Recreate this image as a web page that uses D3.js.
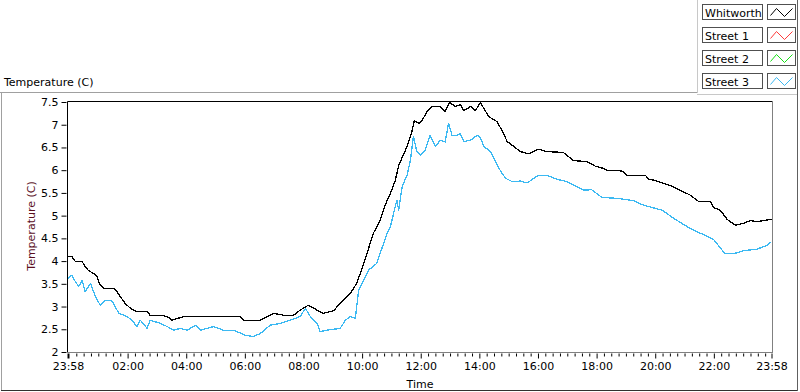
<!DOCTYPE html>
<html>
<head>
<meta charset="utf-8">
<script src="https://cdn.jsdelivr.net/npm/d3@7"></script>
<style>
  html, body { margin: 0; padding: 0; background: #fff; }
  svg { display: block; }
  text { font-family: "DejaVu Sans", "Liberation Sans", sans-serif; font-size: 11px; fill: #000; }
</style>
</head>
<body>
<svg id="chart" width="800" height="392"></svg>
<script>
// ---------------- data ----------------
const seriesNames = ["Whitworth", "Street 1", "Street 2", "Street 3"];
const seriesColors = ["#000000", "#ff3b3b", "#16e016", "#3cb9f2"];

const whitworthTime = ["23:58","00:06","00:13","00:27","00:33","00:40","00:50","00:57","01:04","01:11","01:31","01:38","01:45","01:55","02:06","02:19","02:40","02:46","03:07","03:21","03:31","03:55","04:36","05:51","05:57","06:32","06:38","06:59","07:19","07:40","07:53","08:10","08:28","08:41","09:02","09:15","09:36","09:49","10:00","10:10","10:23","10:37","10:47","10:58","11:08","11:15","11:32","11:42","11:47","11:56","12:03","12:13","12:23","12:40","12:50","12:59","13:11","13:21","13:28","13:42","13:52","14:02","14:12","14:19","14:36","14:46","14:57","15:07","15:24","15:41","16:01","16:18","16:52","17:13","17:40","17:57","18:14","18:21","18:42","18:55","19:02","19:40","19:46","19:57","20:14","20:34","20:51","21:12","21:29","21:53","21:59","22:13","22:27","22:44","23:01","23:14","23:28","23:42","23:58"];
const whitworthTemp = [4.10,4.10,3.99,3.99,3.88,3.79,3.73,3.66,3.47,3.40,3.40,3.33,3.22,3.07,2.96,2.89,2.89,2.81,2.81,2.78,2.70,2.78,2.78,2.78,2.70,2.70,2.74,2.85,2.81,2.81,2.92,3.03,2.92,2.85,2.91,3.07,3.29,3.51,3.84,4.17,4.61,4.90,5.23,5.49,5.78,6.11,6.52,6.85,7.09,7.03,7.10,7.29,7.40,7.40,7.29,7.49,7.40,7.44,7.31,7.40,7.31,7.49,7.31,7.18,7.07,6.88,6.63,6.55,6.41,6.36,6.46,6.41,6.39,6.21,6.19,6.09,6.04,6.00,6.00,5.97,5.89,5.89,5.80,5.78,5.72,5.65,5.56,5.45,5.31,5.31,5.18,5.12,4.92,4.79,4.83,4.89,4.87,4.89,4.92];

const street1Time = [];
const street1Temp = [];
const street2Time = [];
const street2Temp = [];

const street3Time = ["23:58","00:06","00:13","00:20","00:27","00:33","00:44","00:54","01:04","01:14","01:25","01:31","01:42","01:59","02:09","02:19","02:26","02:40","02:46","03:07","03:21","03:34","03:48","04:02","04:19","04:29","04:56","05:16","05:37","06:01","06:18","06:32","06:52","07:13","07:33","07:53","08:04","08:14","08:28","08:34","08:48","09:15","09:26","09:36","09:46","09:53","10:13","10:30","10:44","10:51","10:58","11:11","11:15","11:22","11:32","11:39","11:45","11:52","11:59","12:09","12:19","12:30","12:40","12:50","12:57","13:04","13:14","13:21","13:28","13:42","13:56","14:02","14:09","14:23","14:33","14:44","14:54","15:07","15:24","15:38","16:01","16:18","16:39","16:59","17:20","17:33","17:50","18:11","18:42","19:16","19:36","20:14","20:38","21:05","21:33","21:59","22:23","22:40","23:01","23:28","23:49","23:58"];
const street3Temp = [3.62,3.69,3.55,3.44,3.58,3.33,3.51,3.22,3.03,3.14,3.14,3.07,2.85,2.78,2.70,2.56,2.70,2.52,2.70,2.63,2.56,2.48,2.52,2.48,2.59,2.48,2.56,2.48,2.48,2.37,2.34,2.41,2.59,2.63,2.70,2.78,2.96,2.78,2.63,2.45,2.48,2.52,2.70,2.78,2.74,3.36,3.80,3.95,4.39,4.61,4.76,5.34,5.12,5.64,5.89,6.22,6.74,6.41,6.33,6.44,6.77,6.52,6.66,6.62,7.03,6.77,6.77,6.81,6.63,6.66,6.77,6.72,6.52,6.41,6.19,5.97,5.82,5.75,5.76,5.72,5.89,5.89,5.80,5.75,5.64,5.56,5.57,5.40,5.38,5.33,5.23,5.12,4.94,4.76,4.61,4.48,4.16,4.16,4.23,4.26,4.35,4.43];

const xTickLabels = ["23:58","02:00","04:00","06:00","08:00","10:00","12:00","14:00","16:00","18:00","20:00","22:00","23:58"];
const yTickValues = [2, 2.5, 3, 3.5, 4, 4.5, 5, 5.5, 6, 6.5, 7, 7.5];

// ---------------- helpers ----------------
// first entry of each list is 23:58 on day 1, everything after is on day 2
function toDate(label, i) {
  const [h, m] = label.split(":").map(Number);
  return new Date(2000, 0, i === 0 ? 1 : 2, h, m);
}
function buildSeries(times, temps) {
  return times.map((t, i) => ({ date: toDate(t, i), value: temps[i] }));
}
const series = [
  buildSeries(whitworthTime, whitworthTemp),
  buildSeries(street1Time, street1Temp),
  buildSeries(street2Time, street2Temp),
  buildSeries(street3Time, street3Temp)
];

// ---------------- layout ----------------
const svg = d3.select("#chart");
const plot = { left: 67.5, right: 772.5, top: 101.5, bottom: 352.5 };

const x = d3.scaleTime()
  .domain([toDate(xTickLabels[0], 0), toDate(xTickLabels[xTickLabels.length - 1], 1)])
  .range([68, 771.5]);
const y = d3.scaleLinear().domain([2, 7.5]).range([352, 102]);

// outer panel borders
svg.append("rect").attr("x", 0).attr("y", 0).attr("width", 800).attr("height", 392).attr("fill", "#fff");
svg.append("line").attr("x1", 0).attr("x2", 697).attr("y1", 92.5).attr("y2", 92.5).attr("stroke", "#a0a0a0");
svg.append("line").attr("x1", 1.5).attr("x2", 1.5).attr("y1", 92).attr("y2", 391).attr("stroke", "#a0a0a0");
svg.append("line").attr("x1", 1).attr("x2", 798).attr("y1", 390.5).attr("y2", 390.5).attr("stroke", "#303030");
svg.append("line").attr("x1", 797.5).attr("x2", 797.5).attr("y1", 0).attr("y2", 391).attr("stroke", "#606060");
// legend panel borders
svg.append("line").attr("x1", 697.5).attr("x2", 697.5).attr("y1", 0).attr("y2", 93).attr("stroke", "#c8c8c8");
svg.append("line").attr("x1", 697).attr("x2", 797).attr("y1", 94.5).attr("y2", 94.5).attr("stroke", "#c8c8c8");

// chart title
svg.append("text").attr("x", 4).attr("y", 86).text("Temperature (C)");

// plot background + frame
svg.append("rect").attr("x", plot.left).attr("y", plot.top)
  .attr("width", plot.right - plot.left).attr("height", plot.bottom - plot.top).attr("fill", "#fff");

// axes
const yAxis = d3.axisLeft(y).tickValues(yTickValues).tickSize(5).tickPadding(3).tickFormat(d => String(d));
const gy = svg.append("g").attr("transform", `translate(${plot.left - 1},0)`).call(yAxis);
gy.select(".domain").remove();
gy.selectAll("text").style("font-family", "DejaVu Sans").style("font-size", "11px").attr("fill", "#000");
gy.selectAll("line").attr("stroke", "#000");

const majorDates = xTickLabels.map((t, i) => toDate(t, i));
const minorDates = d3.timeMinute.every(15).range(new Date(2000, 0, 2, 0, 0), toDate("23:58", 1))
  .filter(d => !(d.getMinutes() === 0 && d.getHours() % 2 === 0));
const xMinor = d3.axisBottom(x).tickValues(minorDates).tickSize(3).tickFormat("");
const gxm = svg.append("g").attr("transform", `translate(0,${plot.bottom + 1})`).call(xMinor);
gxm.select(".domain").remove();
gxm.selectAll("line").attr("stroke", "#000");

const xAxis = d3.axisBottom(x).tickValues(majorDates).tickSize(5).tickPadding(4)
  .tickFormat((d, i) => xTickLabels[i]);
const gx = svg.append("g").attr("transform", `translate(0,${plot.bottom + 1})`).call(xAxis);
gx.select(".domain").remove();
gx.selectAll("text").style("font-family", "DejaVu Sans").style("font-size", "11px").attr("fill", "#000");
gx.selectAll("line").attr("stroke", "#000");
gx.selectAll(".tick").filter((d, i) => i === 0).select("line").attr("stroke-width", 2);

// axis titles
svg.append("text").attr("x", (plot.left + plot.right) / 2).attr("y", 388)
  .attr("text-anchor", "middle").text("Time");
svg.append("text").attr("transform", "translate(35,226) rotate(-90)")
  .attr("text-anchor", "middle").style("fill", "#5a0f1e").text("Temperature (C)");

// series lines
const line = d3.line().x(d => x(d.date)).y(d => y(d.value));
svg.append("clipPath").attr("id", "plotclip").append("rect")
  .attr("x", plot.left).attr("y", plot.top).attr("width", plot.right - plot.left).attr("height", plot.bottom - plot.top);
const gLines = svg.append("g").attr("clip-path", "url(#plotclip)");
[3, 2, 1, 0].forEach(k => {
  if (series[k].length === 0) return;
  gLines.append("path").datum(series[k])
    .attr("fill", "none").attr("stroke", seriesColors[k]).attr("stroke-width", 1.3)
    .attr("shape-rendering", "crispEdges")
    .attr("stroke-linejoin", "round").attr("d", line);
});

// frame (top/left dark, right/bottom gray)
svg.append("line").attr("x1", plot.left).attr("x2", plot.right).attr("y1", plot.top).attr("y2", plot.top).attr("stroke", "#000");
svg.append("line").attr("x1", plot.left).attr("x2", plot.left).attr("y1", plot.top).attr("y2", plot.bottom).attr("stroke", "#000");
svg.append("line").attr("x1", plot.right).attr("x2", plot.right).attr("y1", plot.top).attr("y2", plot.bottom + 0.5).attr("stroke", "#808080");
svg.append("line").attr("x1", plot.left).attr("x2", plot.right).attr("y1", plot.bottom).attr("y2", plot.bottom).attr("stroke", "#808080");

// legend
const legendRow = d3.scaleBand().domain(seriesNames).range([4, 96]).paddingInner(0);
const lg = svg.append("g");
seriesNames.forEach((name, i) => {
  const top = Math.round(legendRow(name)) + 0.5;
  lg.append("rect").attr("x", 702.5).attr("y", top).attr("width", 60).attr("height", 15)
    .attr("fill", "#fff").attr("stroke", "#505050");
  lg.append("text").attr("x", 705).attr("y", top + 12).text(name);
  lg.append("rect").attr("x", 767.5).attr("y", top).attr("width", 28).attr("height", 15)
    .attr("fill", "#fff").attr("stroke", "#505050");
  const zz = [[3, 11], [9, 4], [17, 12], [25, 4]].map(p => [767.5 + p[0], top + p[1]]);
  lg.append("path").attr("d", d3.line()(zz)).attr("fill", "none")
    .attr("stroke", seriesColors[i]).attr("stroke-width", 1);
});
</script>
</body>
</html>
